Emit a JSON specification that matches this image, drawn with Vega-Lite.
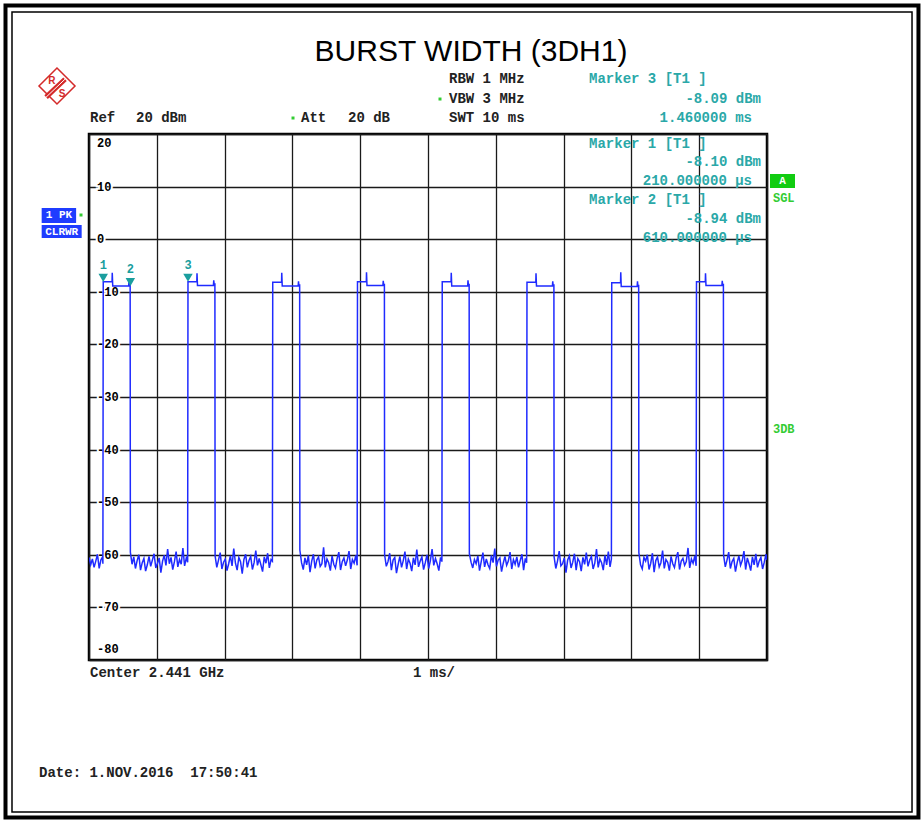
{
"$schema": "https://vega.github.io/schema/vega-lite/v6.json",
"width": 678, "height": 526,
"autosize": {"type": "none"},
"padding": {"left": 89, "top": 134, "right": 155, "bottom": 161},
"background": "white",
"datasets": {
"trace": [
{"t":0,"v":-60.5},{"t":0.025,"v":-61.9},{"t":0.05,"v":-60.8},{"t":0.075,"v":-62.4},{"t":0.1,"v":-61.2},{"t":0.125,"v":-59.9},{"t":0.15,"v":-62.6},{"t":0.175,"v":-61.0},{"t":0.2,"v":-60.4},{"t":0.205,"v":-61.7},
{"t":0.21,"v":-8.1},{"t":0.34,"v":-8.1},{"t":0.343,"v":-6.4},{"t":0.35,"v":-8.9},{"t":0.585,"v":-8.9},{"t":0.59,"v":-7.9},{"t":0.595,"v":-8.6},{"t":0.607,"v":-8.6},
{"t":0.61,"v":-59.5},{"t":0.635,"v":-61.8},{"t":0.66,"v":-60.4},{"t":0.685,"v":-62.6},{"t":0.71,"v":-61.1},{"t":0.735,"v":-60.0},{"t":0.76,"v":-62.9},{"t":0.785,"v":-61.5},{"t":0.81,"v":-60.7},{"t":0.835,"v":-63.1},{"t":0.86,"v":-61.9},{"t":0.885,"v":-60.3},{"t":0.91,"v":-62.2},{"t":0.935,"v":-61.0},{"t":0.96,"v":-59.8},{"t":0.985,"v":-62.5},{"t":1.01,"v":-61.6},{"t":1.035,"v":-60.6},{"t":1.06,"v":-63.4},{"t":1.085,"v":-61.2},{"t":1.11,"v":-60.1},{"t":1.135,"v":-62.0},{"t":1.16,"v":-58.9},{"t":1.185,"v":-61.7},{"t":1.21,"v":-60.5},{"t":1.235,"v":-62.8},{"t":1.26,"v":-61.3},{"t":1.285,"v":-59.4},{"t":1.31,"v":-62.3},{"t":1.335,"v":-60.9},{"t":1.36,"v":-61.8},{"t":1.385,"v":-58.7},{"t":1.41,"v":-62.1},{"t":1.435,"v":-60.6},{"t":1.455,"v":-61.4},
{"t":1.46,"v":-8.1},{"t":1.59,"v":-8.1},{"t":1.593,"v":-6.5},{"t":1.6,"v":-8.8},{"t":1.835,"v":-8.8},{"t":1.84,"v":-7.8},{"t":1.845,"v":-8.5},{"t":1.857,"v":-8.5},
{"t":1.86,"v":-60.2},{"t":1.885,"v":-62.4},{"t":1.91,"v":-61.0},{"t":1.935,"v":-59.6},{"t":1.96,"v":-62.7},{"t":1.985,"v":-61.4},{"t":2.01,"v":-60.8},{"t":2.035,"v":-63.0},{"t":2.06,"v":-61.7},{"t":2.085,"v":-60.2},{"t":2.11,"v":-62.1},{"t":2.135,"v":-58.8},{"t":2.16,"v":-61.6},{"t":2.185,"v":-62.9},{"t":2.21,"v":-60.5},{"t":2.235,"v":-61.3},{"t":2.26,"v":-63.6},{"t":2.285,"v":-60.9},{"t":2.31,"v":-59.9},{"t":2.335,"v":-62.4},{"t":2.36,"v":-61.1},{"t":2.385,"v":-60.3},{"t":2.41,"v":-62.8},{"t":2.435,"v":-61.5},{"t":2.46,"v":-59.2},{"t":2.485,"v":-62.0},{"t":2.51,"v":-60.7},{"t":2.535,"v":-61.9},{"t":2.56,"v":-63.2},{"t":2.585,"v":-60.4},{"t":2.61,"v":-61.6},{"t":2.635,"v":-59.7},{"t":2.66,"v":-62.5},{"t":2.685,"v":-60.9},{"t":2.705,"v":-61.2},
{"t":2.71,"v":-8.2},{"t":2.84,"v":-8.2},{"t":2.843,"v":-6.4},{"t":2.85,"v":-8.9},{"t":3.085,"v":-8.9},{"t":3.09,"v":-8.0},{"t":3.095,"v":-8.7},{"t":3.107,"v":-8.7},
{"t":3.11,"v":-59.1},{"t":3.135,"v":-61.5},{"t":3.16,"v":-62.8},{"t":3.185,"v":-60.6},{"t":3.21,"v":-61.9},{"t":3.235,"v":-60.1},{"t":3.26,"v":-63.3},{"t":3.285,"v":-61.2},{"t":3.31,"v":-59.9},{"t":3.335,"v":-62.6},{"t":3.36,"v":-61.0},{"t":3.385,"v":-60.4},{"t":3.41,"v":-62.2},{"t":3.435,"v":-61.7},{"t":3.46,"v":-58.6},{"t":3.485,"v":-62.4},{"t":3.51,"v":-60.8},{"t":3.535,"v":-61.5},{"t":3.56,"v":-63.0},{"t":3.585,"v":-60.2},{"t":3.61,"v":-61.8},{"t":3.635,"v":-62.5},{"t":3.66,"v":-60.7},{"t":3.685,"v":-59.5},{"t":3.71,"v":-62.9},{"t":3.735,"v":-61.3},{"t":3.76,"v":-60.6},{"t":3.785,"v":-62.1},{"t":3.81,"v":-61.0},{"t":3.835,"v":-59.3},{"t":3.86,"v":-62.7},{"t":3.885,"v":-60.9},{"t":3.91,"v":-61.6},{"t":3.935,"v":-60.1},{"t":3.955,"v":-62.0},
{"t":3.96,"v":-8.1},{"t":4.09,"v":-8.1},{"t":4.093,"v":-6.3},{"t":4.1,"v":-8.8},{"t":4.335,"v":-8.8},{"t":4.34,"v":-7.9},{"t":4.345,"v":-8.6},{"t":4.357,"v":-8.6},
{"t":4.36,"v":-60.0},{"t":4.385,"v":-62.2},{"t":4.41,"v":-61.3},{"t":4.435,"v":-59.7},{"t":4.46,"v":-62.9},{"t":4.485,"v":-61.0},{"t":4.51,"v":-60.5},{"t":4.535,"v":-63.5},{"t":4.56,"v":-61.8},{"t":4.585,"v":-60.3},{"t":4.61,"v":-62.4},{"t":4.635,"v":-61.1},{"t":4.66,"v":-59.4},{"t":4.685,"v":-62.7},{"t":4.71,"v":-60.8},{"t":4.735,"v":-61.6},{"t":4.76,"v":-63.1},{"t":4.785,"v":-60.6},{"t":4.81,"v":-61.9},{"t":4.835,"v":-59.0},{"t":4.86,"v":-62.3},{"t":4.885,"v":-61.2},{"t":4.91,"v":-60.4},{"t":4.935,"v":-62.8},{"t":4.96,"v":-61.5},{"t":4.985,"v":-60.0},{"t":5.01,"v":-62.6},{"t":5.035,"v":-61.1},{"t":5.06,"v":-58.9},{"t":5.085,"v":-62.0},{"t":5.11,"v":-60.7},{"t":5.135,"v":-61.7},{"t":5.16,"v":-63.0},{"t":5.185,"v":-60.5},{"t":5.205,"v":-61.3},
{"t":5.21,"v":-8.1},{"t":5.34,"v":-8.1},{"t":5.343,"v":-6.4},{"t":5.35,"v":-8.9},{"t":5.585,"v":-8.9},{"t":5.59,"v":-7.8},{"t":5.595,"v":-8.6},{"t":5.607,"v":-8.6},
{"t":5.61,"v":-59.8},{"t":5.635,"v":-61.4},{"t":5.66,"v":-62.5},{"t":5.685,"v":-60.9},{"t":5.71,"v":-61.7},{"t":5.735,"v":-60.2},{"t":5.76,"v":-63.0},{"t":5.785,"v":-61.3},{"t":5.81,"v":-59.6},{"t":5.835,"v":-62.3},{"t":5.86,"v":-60.8},{"t":5.885,"v":-61.9},{"t":5.91,"v":-62.6},{"t":5.935,"v":-60.1},{"t":5.96,"v":-61.5},{"t":5.985,"v":-58.8},{"t":6.01,"v":-62.2},{"t":6.035,"v":-61.0},{"t":6.06,"v":-60.6},{"t":6.085,"v":-63.2},{"t":6.11,"v":-61.6},{"t":6.135,"v":-60.3},{"t":6.16,"v":-62.0},{"t":6.185,"v":-61.2},{"t":6.21,"v":-59.5},{"t":6.235,"v":-62.7},{"t":6.26,"v":-60.9},{"t":6.285,"v":-61.8},{"t":6.31,"v":-60.4},{"t":6.335,"v":-62.4},{"t":6.36,"v":-61.1},{"t":6.385,"v":-59.9},{"t":6.41,"v":-62.9},{"t":6.435,"v":-60.7},{"t":6.455,"v":-61.5},
{"t":6.46,"v":-8.2},{"t":6.59,"v":-8.2},{"t":6.593,"v":-6.5},{"t":6.6,"v":-8.9},{"t":6.835,"v":-8.9},{"t":6.84,"v":-8.0},{"t":6.845,"v":-8.7},{"t":6.857,"v":-8.7},
{"t":6.86,"v":-60.4},{"t":6.885,"v":-62.6},{"t":6.91,"v":-61.2},{"t":6.935,"v":-59.3},{"t":6.96,"v":-62.1},{"t":6.985,"v":-61.7},{"t":7.01,"v":-60.6},{"t":7.035,"v":-63.4},{"t":7.06,"v":-61.0},{"t":7.085,"v":-60.2},{"t":7.11,"v":-62.5},{"t":7.135,"v":-61.4},{"t":7.16,"v":-59.8},{"t":7.185,"v":-62.9},{"t":7.21,"v":-60.7},{"t":7.235,"v":-61.3},{"t":7.26,"v":-63.1},{"t":7.285,"v":-60.5},{"t":7.31,"v":-61.8},{"t":7.335,"v":-59.6},{"t":7.36,"v":-62.2},{"t":7.385,"v":-61.0},{"t":7.41,"v":-60.3},{"t":7.435,"v":-62.7},{"t":7.46,"v":-61.6},{"t":7.485,"v":-58.9},{"t":7.51,"v":-62.4},{"t":7.535,"v":-60.8},{"t":7.56,"v":-61.5},{"t":7.585,"v":-62.9},{"t":7.61,"v":-60.1},{"t":7.635,"v":-61.9},{"t":7.66,"v":-59.4},{"t":7.685,"v":-62.3},{"t":7.705,"v":-60.8},
{"t":7.71,"v":-8.3},{"t":7.84,"v":-8.3},{"t":7.843,"v":-6.3},{"t":7.85,"v":-9.0},{"t":8.085,"v":-9.0},{"t":8.09,"v":-8.0},{"t":8.095,"v":-8.8},{"t":8.107,"v":-8.8},
{"t":8.11,"v":-59.6},{"t":8.135,"v":-61.9},{"t":8.16,"v":-62.7},{"t":8.185,"v":-60.5},{"t":8.21,"v":-61.2},{"t":8.235,"v":-60.0},{"t":8.26,"v":-62.8},{"t":8.285,"v":-61.6},{"t":8.31,"v":-59.7},{"t":8.335,"v":-63.3},{"t":8.36,"v":-61.1},{"t":8.385,"v":-60.4},{"t":8.41,"v":-62.3},{"t":8.435,"v":-61.5},{"t":8.46,"v":-59.2},{"t":8.485,"v":-62.6},{"t":8.51,"v":-60.9},{"t":8.535,"v":-61.4},{"t":8.56,"v":-63.0},{"t":8.585,"v":-60.3},{"t":8.61,"v":-61.7},{"t":8.635,"v":-62.4},{"t":8.66,"v":-60.6},{"t":8.685,"v":-59.5},{"t":8.71,"v":-62.8},{"t":8.735,"v":-61.2},{"t":8.76,"v":-60.7},{"t":8.785,"v":-62.0},{"t":8.81,"v":-61.3},{"t":8.835,"v":-58.7},{"t":8.86,"v":-62.5},{"t":8.885,"v":-60.8},{"t":8.91,"v":-61.6},{"t":8.935,"v":-60.2},{"t":8.955,"v":-62.1},
{"t":8.96,"v":-8.1},{"t":9.09,"v":-8.1},{"t":9.093,"v":-6.5},{"t":9.1,"v":-8.8},{"t":9.335,"v":-8.8},{"t":9.34,"v":-7.9},{"t":9.345,"v":-8.6},{"t":9.357,"v":-8.6},
{"t":9.36,"v":-60.1},{"t":9.385,"v":-62.3},{"t":9.41,"v":-61.0},{"t":9.435,"v":-59.5},{"t":9.46,"v":-62.6},{"t":9.485,"v":-61.3},{"t":9.51,"v":-60.7},{"t":9.535,"v":-63.2},{"t":9.56,"v":-61.5},{"t":9.585,"v":-60.2},{"t":9.61,"v":-62.0},{"t":9.635,"v":-61.1},{"t":9.66,"v":-59.3},{"t":9.685,"v":-62.8},{"t":9.71,"v":-60.6},{"t":9.735,"v":-61.7},{"t":9.76,"v":-63.0},{"t":9.785,"v":-60.4},{"t":9.81,"v":-61.9},{"t":9.835,"v":-59.8},{"t":9.86,"v":-62.4},{"t":9.885,"v":-61.2},{"t":9.91,"v":-60.5},{"t":9.935,"v":-62.7},{"t":9.96,"v":-61.4},{"t":9.985,"v":-59.9},{"t":10,"v":-61.0}
],
"ylab": [
{"t":0,"v":20,"label":"20"},{"t":0,"v":10,"label":"10"},{"t":0,"v":0,"label":"0"},{"t":0,"v":-10,"label":"-10"},{"t":0,"v":-20,"label":"-20"},{"t":0,"v":-30,"label":"-30"},{"t":0,"v":-40,"label":"-40"},{"t":0,"v":-50,"label":"-50"},{"t":0,"v":-60,"label":"-60"},{"t":0,"v":-70,"label":"-70"},{"t":0,"v":-80,"label":"-80"}
],
"mk": [
{"t":0.21,"v":-8.10,"label":"1"},{"t":0.61,"v":-8.94,"label":"2"},{"t":1.46,"v":-8.09,"label":"3"}
],
"black": [
{"t":0.015,"v":22.19,"text":"Ref"},{"t":0.693,"v":22.19,"text":"20 dBm"},
{"t":3.127,"v":22.19,"text":"Att"},{"t":3.82,"v":22.19,"text":"20 dB"},
{"t":5.31,"v":29.79,"text":"RBW 1 MHz"},{"t":5.31,"v":25.89,"text":"VBW 3 MHz"},{"t":5.31,"v":22.19,"text":"SWT 10 ms"},
{"t":0.015,"v":-83.14,"text":"Center 2.441 GHz"},{"t":4.779,"v":-83.14,"text":"1 ms/"},
{"t":-0.737,"v":-102.33,"text":"Date: 1.NOV.2016 \u00a017:50:41"}
],
"tealL": [
{"t":7.375,"v":29.79,"text":"Marker 3 [T1 ]"},{"t":7.375,"v":17.43,"text":"Marker 1 [T1 ]"},{"t":7.375,"v":6.6,"text":"Marker 2 [T1 ]"}
],
"tealR": [
{"t":9.912,"v":25.89,"text":"-8.09 dBm"},{"t":9.779,"v":22.19,"text":"1.460000 ms"},
{"t":9.912,"v":13.92,"text":"-8.10 dBm"},{"t":9.779,"v":10.3,"text":"210.000000 µs"},
{"t":9.912,"v":3.17,"text":"-8.94 dBm"},{"t":9.779,"v":-0.44,"text":"610.000000 µs"}
],
"green": [
{"t":10.088,"v":7.07,"text":"SGL"},{"t":10.088,"v":-36.9,"text":"3DB"}
],
"abox": [{"t":10.044,"t2":10.413,"v":12.4,"v2":9.73}],
"atext": [{"t":10.229,"v":11.06,"text":"A"}],
"bbox": [{"t":-0.698,"t2":-0.19,"v":5.93,"v2":3.08},{"t":-0.698,"t2":-0.108,"v":2.7,"v2":0.23}],
"btext": [{"t":-0.444,"v":4.51,"text":"1 PK"},{"t":-0.403,"v":1.43,"text":"CLRWR"}],
"dots": [{"t":5.177,"v":26.65},{"t":3.009,"v":23.04},{"t":-0.118,"v":4.6}],
"logo": [{"t":-0.472,"v":29.13}],
"band": [{"t":-0.633,"v":27.0,"t2":-0.354,"v2":30.42}],
"logoTxt": [{"t":-0.546,"v":30.0,"text":"R"},{"t":-0.398,"v":27.6,"text":"S"}],
"frameThick": [{"t":-1.2316,"t2":12.234,"v":44.43,"v2":-109.94}],
"frameThin": [{"t":-1.1357,"t2":12.139,"v":43.19,"v2":-108.9}],
"title": [{"t":5.634,"v":33.97,"text":"BURST WIDTH (3DH1)"}]
},
"encoding": {
"x": {"field":"t","type":"quantitative","scale":{"domain":[0,10],"nice":false,"zero":false},
 "axis":{"values":[0,1,2,3,4,5,6,7,8,9,10],"grid":true,"labels":false,"ticks":false,"domain":false,"title":null,"gridColor":"#1a1a1a","gridWidth":1.3,"gridOpacity":1}},
"y": {"field":"v","type":"quantitative","scale":{"domain":[-80,20],"nice":false,"zero":false},
 "axis":{"values":[-80,-70,-60,-50,-40,-30,-20,-10,0,10,20],"grid":true,"labels":false,"ticks":false,"domain":false,"title":null,"gridColor":"#1a1a1a","gridWidth":1.3,"gridOpacity":1}}
},
"layer": [
{"data":{"name":"frameThick"},"mark":{"type":"rect","filled":false,"stroke":"black","strokeWidth":4},"encoding":{"x2":{"field":"t2"},"y2":{"field":"v2"}}},
{"data":{"name":"frameThin"},"mark":{"type":"rect","filled":false,"stroke":"black","strokeWidth":1.5},"encoding":{"x2":{"field":"t2"},"y2":{"field":"v2"}}},
{"data":{"name":"ylab"},"transform":[{"filter":"datum.v < 20 && datum.v > -80"}],"mark":{"type":"text","align":"left","baseline":"middle","dx":8,"font":"Liberation Mono","fontSize":12,"fontWeight":"bold","fill":"white","stroke":"white","strokeWidth":4},"encoding":{"text":{"field":"label"}}},
{"data":{"name":"trace"},"mark":{"type":"line","color":"#1f2bff","strokeWidth":1.5,"clip":true},"encoding":{}},
{"data":{"name":"ylab"},"transform":[{"filter":"datum.v < 20 && datum.v > -80"}],"mark":{"type":"text","align":"left","baseline":"middle","dx":8,"font":"Liberation Mono","fontSize":12,"fontWeight":"bold","color":"black"},"encoding":{"text":{"field":"label"}}},
{"data":{"name":"ylab"},"transform":[{"filter":"datum.v == 20"}],"mark":{"type":"text","align":"left","baseline":"top","dx":8,"dy":4,"font":"Liberation Mono","fontSize":12,"fontWeight":"bold","color":"black"},"encoding":{"text":{"field":"label"}}},
{"data":{"name":"ylab"},"transform":[{"filter":"datum.v == -80"}],"mark":{"type":"text","align":"left","baseline":"bottom","dx":8,"dy":-4,"font":"Liberation Mono","fontSize":12,"fontWeight":"bold","color":"black"},"encoding":{"text":{"field":"label"}}},
{"data":{"name":"mk"},"mark":{"type":"point","shape":"triangle-down","filled":true,"size":90,"yOffset":-4,"color":"#1a9e9e","opacity":1}},
{"data":{"name":"mk"},"mark":{"type":"text","align":"center","baseline":"alphabetic","dy":-13,"font":"Liberation Mono","fontSize":12,"fontWeight":"bold","color":"#1a9e9e"},"encoding":{"text":{"field":"label"}}},
{"data":{"name":"black"},"mark":{"type":"text","align":"left","baseline":"alphabetic","font":"Liberation Mono","fontSize":14,"fontWeight":"bold","color":"#222"},"encoding":{"text":{"field":"text"}}},
{"data":{"name":"tealL"},"mark":{"type":"text","align":"left","baseline":"alphabetic","font":"Liberation Mono","fontSize":14,"fontWeight":"bold","color":"#2aa8a8"},"encoding":{"text":{"field":"text"}}},
{"data":{"name":"tealR"},"mark":{"type":"text","align":"right","baseline":"alphabetic","font":"Liberation Mono","fontSize":14,"fontWeight":"bold","color":"#2aa8a8"},"encoding":{"text":{"field":"text"}}},
{"data":{"name":"green"},"mark":{"type":"text","align":"left","baseline":"alphabetic","font":"Liberation Mono","fontSize":12,"fontWeight":"bold","color":"#33cc33"},"encoding":{"text":{"field":"text"}}},
{"data":{"name":"abox"},"mark":{"type":"rect","color":"#11cc11","opacity":1},"encoding":{"x2":{"field":"t2"},"y2":{"field":"v2"}}},
{"data":{"name":"atext"},"mark":{"type":"text","align":"center","baseline":"middle","font":"Liberation Mono","fontSize":11,"fontWeight":"bold","color":"white"},"encoding":{"text":{"field":"text"}}},
{"data":{"name":"bbox"},"mark":{"type":"rect","color":"#1f3cff","opacity":1},"encoding":{"x2":{"field":"t2"},"y2":{"field":"v2"}}},
{"data":{"name":"btext"},"mark":{"type":"text","align":"center","baseline":"middle","font":"Liberation Mono","fontSize":11,"fontWeight":"bold","color":"white"},"encoding":{"text":{"field":"text"}}},
{"data":{"name":"dots"},"mark":{"type":"point","shape":"square","filled":true,"size":9,"color":"#33cc33","opacity":1}},
{"data":{"name":"logo"},"mark":{"type":"point","shape":"diamond","filled":false,"size":1300,"stroke":"#d42a2a","strokeWidth":1.5,"opacity":1}},
{"data":{"name":"band"},"mark":{"type":"rule","color":"#d42a2a","strokeWidth":5},"encoding":{"x2":{"field":"t2"},"y2":{"field":"v2"}}},
{"data":{"name":"band"},"mark":{"type":"rule","color":"white","strokeWidth":1},"encoding":{"x2":{"field":"t2"},"y2":{"field":"v2"}}},
{"data":{"name":"logoTxt"},"mark":{"type":"text","align":"center","baseline":"middle","font":"Liberation Sans","fontSize":10,"fontWeight":"bold","color":"#d42a2a"},"encoding":{"text":{"field":"text"}}},
{"data":{"name":"title"},"mark":{"type":"text","align":"center","baseline":"alphabetic","font":"Liberation Sans","fontSize":30,"color":"black"},"encoding":{"text":{"field":"text"}}}
],
"config": {"view": {"stroke": "black", "strokeWidth": 2.5}}
}
